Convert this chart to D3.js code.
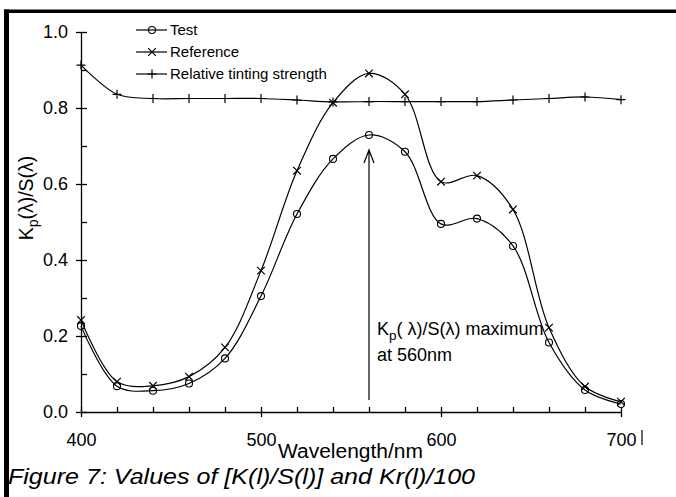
<!DOCTYPE html>
<html>
<head>
<meta charset="utf-8">
<script src="https://cdn.jsdelivr.net/npm/d3@7"></script>
<style>
    body { margin: 0; background: #fff; }
    svg { display: block; font-family: "Liberation Sans", Arial, sans-serif; }
</style>
</head>
<body>
<div id="chart"></div>
<script>
const wavelengths = [400, 420, 440, 460, 480, 500, 520, 540, 560, 580, 600, 620, 640, 660, 680, 700]
const testValues = [0.226, 0.068, 0.056, 0.075, 0.141, 0.305, 0.521, 0.666, 0.729, 0.685, 0.495, 0.509, 0.437, 0.183, 0.058, 0.021]
const referenceValues = [0.242, 0.080, 0.069, 0.093, 0.170, 0.372, 0.635, 0.814, 0.891, 0.836, 0.606, 0.622, 0.533, 0.222, 0.067, 0.027]
const relativeValues = [0.913, 0.836, 0.825, 0.825, 0.825, 0.825, 0.821, 0.816, 0.817, 0.817, 0.817, 0.817, 0.821, 0.825, 0.829, 0.822]

const yTicks = [0, 0.2, 0.4, 0.6, 0.8, 1.0]
const yMinorTicks = [0, 0.1, 0.2, 0.3, 0.4, 0.5, 0.6, 0.7, 0.8, 0.9, 1.0]
const xTicks = [400, 500, 600, 700]
const xMinorTicks = [400, 420, 440, 460, 480, 500, 520, 540, 560, 580, 600, 620, 640, 660, 680, 700]

const seriesNames = ["Test", "Reference", "Relative tinting strength"]

const width = 676, height = 497

const svg = d3.select("#chart").append("svg")
    .attr("width", width)
    .attr("height", height)

const x = d3.scaleLinear().domain([400, 700]).range([81, 621])
const y = d3.scaleLinear().domain([0, 1]).range([412, 32])

// page frame
svg.append("rect").attr("x", 4).attr("y", 9.5).attr("width", 672).attr("height", 3.5).attr("fill", "#000")
svg.append("rect").attr("x", 4).attr("y", 9.5).attr("width", 5).attr("height", 488).attr("fill", "#000")
svg.append("line").attr("x1", 642).attr("x2", 642).attr("y1", 430).attr("y2", 445)
    .attr("stroke", "#000").attr("stroke-width", 1.2)

// axes
const yAxis = svg.append("g").attr("transform", `translate(${x(400)},0)`)
    .call(d3.axisLeft(y).tickValues(yTicks).tickSize(5).tickPadding(8).tickFormat(d3.format(".1f")))
const yAxisMinor = svg.append("g").attr("transform", `translate(${x(400)},0)`)
    .call(d3.axisRight(y).tickValues(yMinorTicks).tickSize(6).tickFormat(""))
const xAxis = svg.append("g").attr("transform", `translate(0,${y(0)})`)
    .call(d3.axisBottom(x).tickValues(xTicks).tickSize(5).tickPadding(16).tickFormat(d3.format("d")))
const xAxisMinor = svg.append("g").attr("transform", `translate(0,${y(0)})`)
    .call(d3.axisTop(x).tickValues(xMinorTicks).tickSize(5).tickFormat(""))

yAxisMinor.select(".domain").remove()
xAxisMinor.select(".domain").remove()
svg.selectAll(".domain, .tick line").attr("stroke", "#000").attr("stroke-width", 1.3)
yAxis.selectAll(".domain").attr("d", `M0.5,${y(1)}V${y(0)}`)
xAxis.selectAll(".domain").attr("d", `M${x(400)},0.5H${x(700)}`)
yAxis.selectAll("text").attr("font-size", 18).attr("fill", "#000").attr("font-family", "Liberation Sans, Arial, sans-serif")
xAxis.selectAll("text").attr("font-size", 18).attr("fill", "#000").attr("font-family", "Liberation Sans, Arial, sans-serif")

// axis titles
svg.append("text")
    .attr("x", 278).attr("y", 458)
    .attr("font-size", 19.5)
    .attr("textLength", 145)
    .attr("lengthAdjust", "spacingAndGlyphs")
    .text("Wavelength/nm")

const yLabel = svg.append("text")
    .attr("transform", "translate(33,198) rotate(-90)")
    .attr("text-anchor", "middle")
    .attr("font-size", 19.5)
yLabel.append("tspan").text("K")
yLabel.append("tspan").attr("font-size", 14).attr("dy", 5).text("p")
yLabel.append("tspan").attr("dy", -5).text("(λ)/S(λ)")

// lines
const line = d3.line()
    .x(d => x(d[0]))
    .y(d => y(d[1]))
    .curve(d3.curveCatmullRom.alpha(0.5))

const series = [testValues, referenceValues, relativeValues].map(vals => wavelengths.map((w, i) => [w, vals[i]]))

svg.append("g").selectAll("path")
    .data(series)
    .join("path")
        .attr("d", line)
        .attr("fill", "none")
        .attr("stroke", "#000")
        .attr("stroke-width", 1.2)

function drawMarker(g, type, cx, cy) {
    if (type == 0) {
        g.append("circle").attr("cx", cx).attr("cy", cy).attr("r", 3.5)
            .attr("fill", "none").attr("stroke", "#000").attr("stroke-width", 1.1)
    } else if (type == 1) {
        const s = 3.8
        g.append("path").attr("d", `M${cx - s},${cy - s}L${cx + s},${cy + s}M${cx - s},${cy + s}L${cx + s},${cy - s}`)
            .attr("stroke", "#000").attr("stroke-width", 1.2)
    } else {
        const s = 4.5
        g.append("path").attr("d", `M${cx - s},${cy}H${cx + s}M${cx},${cy - s}V${cy + s}`)
            .attr("stroke", "#000").attr("stroke-width", 1.2)
    }
}

const markers = svg.append("g")
series.forEach((pts, k) => {
    pts.forEach(p => drawMarker(markers, k, x(p[0]), y(p[1])))
})

// legend
const legend = svg.append("g")
seriesNames.forEach((name, k) => {
    const ly = 30 + k * 22
    legend.append("line").attr("x1", 136).attr("x2", 167).attr("y1", ly).attr("y2", ly)
        .attr("stroke", "#000").attr("stroke-width", 1.2)
    drawMarker(legend, k, 152, ly)
    legend.append("text").attr("x", 170).attr("y", ly).attr("dy", "0.35em")
        .attr("font-size", 15).text(name)
})

// annotation arrow at the maximum
const ax = x(560)
svg.append("path")
    .attr("d", `M${ax},400V150M${ax - 5},163L${ax},150L${ax + 5},163`)
    .attr("fill", "none").attr("stroke", "#000").attr("stroke-width", 1.2)

const note = svg.append("text").attr("x", 377).attr("y", 335).attr("font-size", 18)
note.append("tspan").text("K")
note.append("tspan").attr("font-size", 13.5).attr("dy", 5).text("p")
note.append("tspan").attr("dy", -5).text("( λ)/S(λ) maximum")
svg.append("text").attr("x", 377).attr("y", 361).attr("font-size", 18).text("at 560nm")

// caption
svg.append("text")
    .attr("x", 8).attr("y", 484)
    .attr("font-size", 22.5)
    .attr("font-style", "italic")
    .attr("textLength", 467)
    .attr("lengthAdjust", "spacingAndGlyphs")
    .text("Figure 7: Values of [K(l)/S(l)] and Kr(l)/100")
</script>
</body>
</html>
